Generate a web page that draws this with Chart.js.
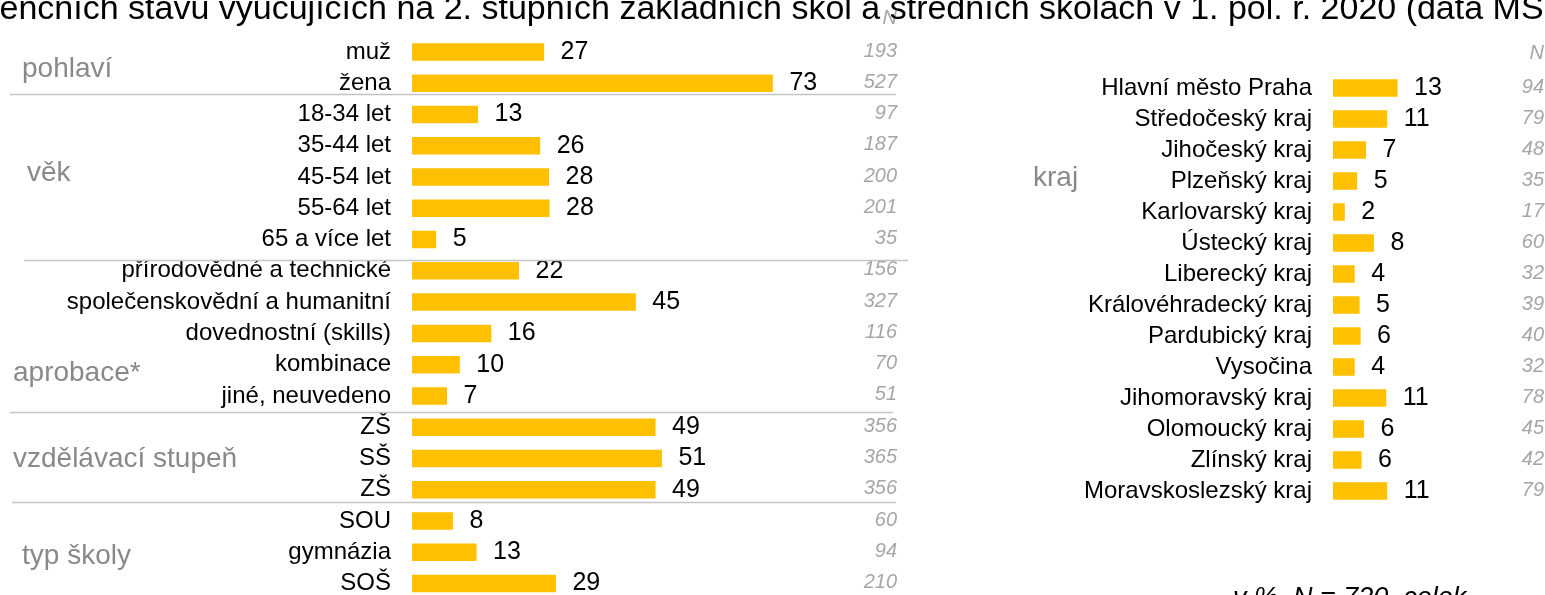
<!DOCTYPE html>
<html lang="cs">
<head>
<meta charset="utf-8">
<script src="https://cdn.jsdelivr.net/npm/chart.js@4.4.1/dist/chart.umd.min.js"></script>
<style>
  html, body { margin: 0; padding: 0; background: #fff; }
  body { width: 1545px; height: 595px; overflow: hidden; position: relative; font-family: "Liberation Sans", Arial, sans-serif; }
  #titulek { position: absolute; top: -10px; right: -59px; white-space: nowrap; font-size: 34px; line-height: 34px; color: #000; }
  #poznamka { position: absolute; left: 1233px; top: 584px; white-space: nowrap; font-size: 27px; line-height: 27px; font-style: italic; color: #000; }
  #levy { position: absolute; left: 0; top: 0; }
  #pravy { position: absolute; left: 1000px; top: 0; }
</style>
</head>
<body>
<canvas id="levy" width="930" height="640"></canvas>
<canvas id="pravy" width="545" height="620"></canvas>
<div id="titulek">Struktura souboru ve srovnání se strukturou evidenčních stavů vyučujících na 2. stupních základních škol a středních školách v 1. pol. r. 2020 (data MŠMT)</div>
<div id="poznamka">v %, N = 720, celek</div>
<script>
// data - levý graf
const skupinyLeva = ['pohlaví', 'věk', 'aprobace*', 'vzdělávací stupeň', 'typ školy'];
const polozkyLeva = ['muž', 'žena', '18-34 let', '35-44 let', '45-54 let', '55-64 let', '65 a více let',
  'přírodovědné a technické', 'společenskovědní a humanitní', 'dovednostní (skills)', 'kombinace', 'jiné, neuvedeno',
  'ZŠ', 'SŠ', 'ZŠ', 'SOU', 'gymnázia', 'SOŠ'];
const hodnotyLeva = [26.8, 73.2, 13.4, 26.0, 27.8, 27.9, 4.9, 21.7, 45.4, 16.1, 9.7, 7.1, 49.4, 50.7, 49.4, 8.3, 13.1, 29.2];
const pocetLeva = [193, 527, 97, 187, 200, 201, 35, 156, 327, 116, 70, 51, 356, 365, 356, 60, 94, 210];

// data - pravý graf
const skupinyPrava = ['kraj'];
const kraje = ['Hlavní město Praha', 'Středočeský kraj', 'Jihočeský kraj', 'Plzeňský kraj', 'Karlovarský kraj',
  'Ústecký kraj', 'Liberecký kraj', 'Královéhradecký kraj', 'Pardubický kraj', 'Vysočina',
  'Jihomoravský kraj', 'Olomoucký kraj', 'Zlínský kraj', 'Moravskoslezský kraj'];
const hodnotyKraje = [13.1, 11.0, 6.7, 4.9, 2.4, 8.3, 4.4, 5.4, 5.6, 4.4, 10.8, 6.3, 5.8, 11.0];
const pocetKraje = [94, 79, 48, 35, 17, 60, 32, 39, 40, 32, 78, 45, 42, 79];

const PISMO = '"Liberation Sans", Arial, sans-serif';
const ZLUTA = '#FFC000';

// vlastní popisky: hodnoty u sloupců, sloupec N, názvy skupin, dělicí čáry
const popisky = {
  id: 'popisky',
  afterDatasetsDraw(chart, args, o) {
    const ctx = chart.ctx;
    const ys = chart.scales.y;
    const meta = chart.getDatasetMeta(0);
    const data = chart.data.datasets[0].data;
    ctx.save();

    ctx.font = '25px ' + PISMO;
    ctx.fillStyle = '#000';
    ctx.textAlign = 'left';
    ctx.textBaseline = 'middle';
    meta.data.forEach((bar, i) => {
      ctx.fillText(Math.round(data[i]), bar.x + 16.5, bar.y);
    });

    ctx.font = 'italic 20px ' + PISMO;
    ctx.fillStyle = '#a6a6a6';
    ctx.textAlign = 'right';
    o.pocty.forEach((n, i) => {
      ctx.fillText(n, o.nX, ys.getPixelForValue(i) - 1);
    });
    ctx.fillText('N', o.nX, ys.getPixelForValue(o.nRadek));

    ctx.font = '28px ' + PISMO;
    ctx.fillStyle = '#898989';
    ctx.textAlign = 'left';
    ctx.textBaseline = 'alphabetic';
    o.skupiny.forEach((s, i) => {
      const p = o.skupinyPoloha[i];
      ctx.fillText(s, p[0], ys.getPixelForValue(p[1]));
    });

    ctx.strokeStyle = '#c4c4c4';
    ctx.lineWidth = 1.3;
    (o.cary || []).forEach(c => {
      const y = Math.round(ys.getPixelForValue(c[0])) + 0.5;
      ctx.beginPath();
      ctx.moveTo(c[1], y);
      ctx.lineTo(c[2], y);
      ctx.stroke();
    });
    ctx.restore();
  }
};

function vytvorGraf(id, popisy, hodnoty, sirkaOsy, maxX, padding, extra) {
  return new Chart(document.getElementById(id), {
    type: 'bar',
    data: {
      labels: popisy,
      datasets: [{
        data: hodnoty,
        backgroundColor: ZLUTA,
        borderWidth: 0,
        categoryPercentage: 1,
        barPercentage: 0.56
      }]
    },
    plugins: [popisky],
    options: {
      indexAxis: 'y',
      responsive: false,
      animation: false,
      layout: { padding: padding },
      scales: {
        x: { display: false, min: 0, max: maxX },
        y: {
          grid: { display: false, drawTicks: false },
          border: { display: false },
          ticks: { autoSkip: false, padding: 21, color: '#000', font: { family: PISMO, size: 24 } },
          afterFit(scale) { scale.width = sirkaOsy; }
        }
      },
      plugins: {
        legend: { display: false },
        tooltip: { enabled: false },
        popisky: extra
      }
    }
  });
}

vytvorGraf('levy', polozkyLeva, hodnotyLeva, 412, 100,
  { left: 0, right: 25, top: 36.4, bottom: 40.9 },
  {
    pocty: pocetLeva, nX: 897, nRadek: -1.06,
    skupiny: skupinyLeva,
    skupinyPoloha: [[22, 0.80], [27, 4.13], [13, 10.52], [13, 13.28], [22, 16.38]],
    cary: [[1.34, 10, 896], [6.65, 24, 908], [11.52, 10, 893], [14.40, 12, 896]]
  });

vytvorGraf('pravy', kraje, hodnotyKraje, 333, 40,
  { left: 0, right: 14.8, top: 72.5, bottom: 113.5 },
  {
    pocty: pocetKraje, nX: 544, nRadek: -1.13,
    skupiny: skupinyPrava,
    skupinyPoloha: [[33, 3.17]],
    cary: []
  });
</script>
</body>
</html>
